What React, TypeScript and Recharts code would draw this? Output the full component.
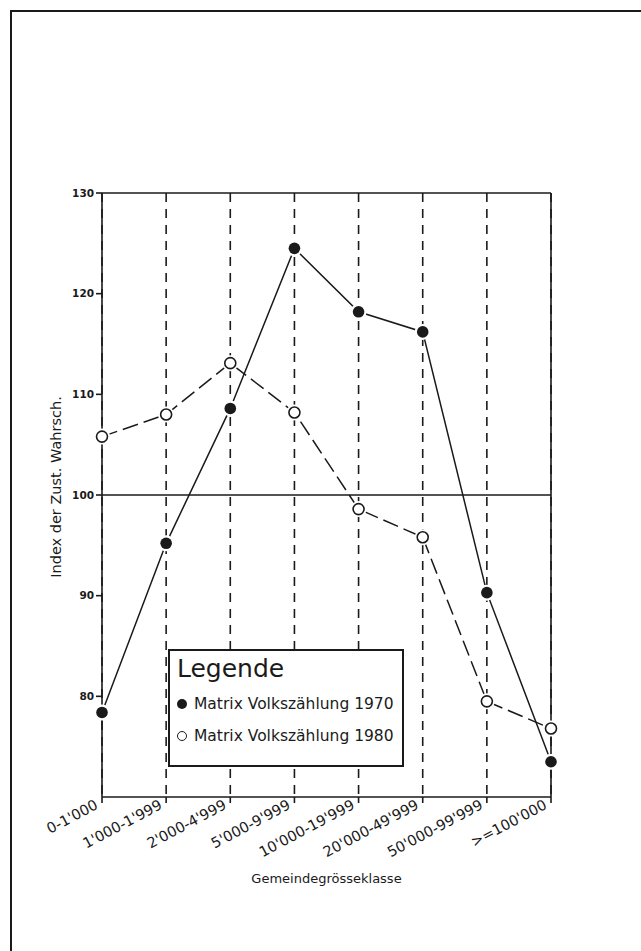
import React from 'react';
import {
  LineChart,
  Line,
  XAxis,
  YAxis,
  CartesianGrid,
  ReferenceLine,
  Legend,
} from 'recharts';

const classes = [
  "0-1'000",
  "1'000-1'999",
  "2'000-4'999",
  "5'000-9'999",
  "10'000-19'999",
  "20'000-49'999",
  "50'000-99'999",
  ">=100'000",
];
const vz1970 = [78.4, 95.2, 108.6, 124.5, 118.2, 116.2, 90.3, 73.5];
const vz1980 = [105.8, 108.0, 113.1, 108.2, 98.6, 95.8, 79.5, 76.8];
const yTicks = [80, 90, 100, 110, 120, 130];

const data = classes.map((k, i) => ({ k, a: vz1970[i], b: vz1980[i] }));

const INK = '#1a1a1a';
const FONT = '"DejaVu Sans", "Liberation Sans", sans-serif';

const FilledDot = (p: any) => (
  <g key={`f-${p.index}`}>
    <circle cx={p.cx} cy={p.cy} r={8} fill="#fff" />
    <circle cx={p.cx} cy={p.cy} r={5.8} fill={INK} />
  </g>
);

const OpenDot = (p: any) => (
  <g key={`o-${p.index}`}>
    <circle cx={p.cx} cy={p.cy} r={8} fill="#fff" />
    <circle cx={p.cx} cy={p.cy} r={5.5} fill="#fff" stroke={INK} strokeWidth={1.6} />
  </g>
);

// rotated class labels, ending right at the tick
const XTick = ({ x, y, payload }: any) => {
  const tx = x - 3;
  const ty = y + 3;
  return (
    <text
      x={tx}
      y={ty}
      transform={`rotate(-28 ${tx} ${ty})`}
      textAnchor="end"
      fontSize={14.5}
      fontFamily={FONT}
      fill={INK}
    >
      {payload.value}
    </text>
  );
};

const LegendBox = () => (
  <div
    style={{
      border: `2px solid ${INK}`,
      background: '#fff',
      height: 118,
      boxSizing: 'border-box',
      padding: '3px 0 0 7px',
      fontFamily: FONT,
      color: INK,
    }}
  >
    <div style={{ fontSize: 25, lineHeight: '30px', marginBottom: 4 }}>Legende</div>
    <div style={{ fontSize: 15.5, lineHeight: '32px' }}>
      <span style={{ display: 'inline-block', width: 10, height: 10, borderRadius: 5, background: INK, marginRight: 7 }} />
      Matrix Volkszählung 1970
    </div>
    <div style={{ fontSize: 15.5, lineHeight: '32px' }}>
      <span style={{ display: 'inline-block', width: 8, height: 8, borderRadius: 5, border: `1.4px solid ${INK}`, marginRight: 7 }} />
      Matrix Volkszählung 1980
    </div>
  </div>
);

export default function App() {
  return (
    <div style={{ position: 'absolute', left: 0, top: 0, width: 641, height: 951, background: '#fff' }}>
      <div
        style={{
          position: 'absolute',
          left: 10,
          top: 10,
          width: 631,
          height: 941,
          borderTop: `2px solid ${INK}`,
          borderLeft: `2px solid ${INK}`,
        }}
      />
      <LineChart
        width={641}
        height={951}
        data={data}
        margin={{ top: 193, right: 90, bottom: 94, left: 42 }}
        style={{ position: 'absolute', left: 0, top: 0 }}
      >
        <CartesianGrid horizontal={false} stroke={INK} strokeWidth={1.6} strokeDasharray="9 7" />
        <XAxis
          dataKey="k"
          height={60}
          tick={<XTick />}
          tickSize={6}
          stroke={INK}
          strokeWidth={1.6}
          interval={0}
          label={({ viewBox }: any) => (
            <text
              x={viewBox.x + viewBox.width / 2}
              y={viewBox.y + 86}
              textAnchor="middle"
              fontSize={13}
              fontFamily={FONT}
              fill={INK}
            >
              Gemeindegrösseklasse
            </text>
          )}
        />
        <YAxis
          domain={[70, 130]}
          ticks={yTicks}
          width={60}
          tickSize={6}
          stroke={INK}
          strokeWidth={1.6}
          tick={{ fontSize: 10.5, fontWeight: 'bold', fontFamily: FONT, fill: INK }}
          label={({ viewBox }: any) => {
            const cx = viewBox.x + 19;
            const cy = viewBox.y + viewBox.height / 2 - 8;
            return (
              <text
                x={cx}
                y={cy}
                transform={`rotate(-90 ${cx} ${cy})`}
                textAnchor="middle"
                fontSize={14.5}
                fontFamily={FONT}
                fill={INK}
              >
                Index der Zust. Wahrsch.
              </text>
            );
          }}
        />
        <ReferenceLine y={130} stroke={INK} strokeWidth={1.6} />
        <ReferenceLine y={100} stroke={INK} strokeWidth={1.4} />
        <ReferenceLine x={">=100'000"} stroke={INK} strokeWidth={1.6} />
        <Line
          dataKey="b"
          stroke={INK}
          strokeWidth={1.5}
          strokeDasharray="16 6"
          dot={OpenDot}
          isAnimationActive={false}
        />
        <Line
          dataKey="a"
          stroke={INK}
          strokeWidth={1.5}
          dot={FilledDot}
          isAnimationActive={false}
        />
        <Legend
          layout="horizontal"
          verticalAlign="middle"
          align="center"
          content={<LegendBox />}
          wrapperStyle={{ left: 168, top: 649, width: 236, height: 119 }}
        />
      </LineChart>
    </div>
  );
}
